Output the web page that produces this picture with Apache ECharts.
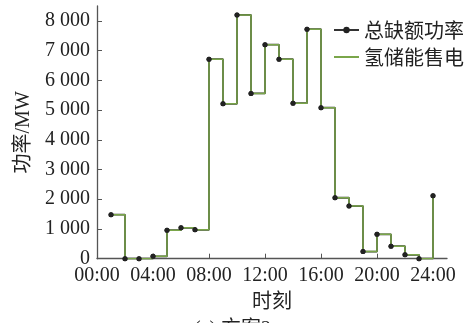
<!DOCTYPE html>
<html>
<head>
<meta charset="utf-8">
<script src="https://cdn.jsdelivr.net/npm/echarts@6/dist/echarts.min.js"></script>
<style>
html,body{margin:0;padding:0;background:#fff;}
#c{width:465px;height:323px;}
</style>
</head>
<body>
<div id="c"></div>
<script>
var hours = [1,2,3,4,5,6,7,8,9,10,11,12,13,14,15,16,17,18,19,20,21,22,23,24];
var totalGap = [1480,0,0,80,960,1040,970,6710,5210,8200,5560,7200,6710,5230,7720,5080,2050,1770,240,820,420,130,0,2120];
var h2Sale = [1480,0,0,80,960,1040,970,6710,5210,8200,5560,7200,6710,5230,7720,5080,2050,1770,240,820,420,130,0,2120];
var xTicks = [0,4,8,12,16,20,24];
var yTicks = [0,1000,2000,3000,4000,5000,6000,7000,8000];
var seriesNames = ['总缺额功率','氢储能售电'];

function pairs(xs, ys){ return xs.map(function(x,i){ return [x, ys[i]]; }); }

var serif = '"Liberation Serif","Noto Sans CJK SC",serif';
var chart = echarts.init(document.getElementById('c'));
chart.setOption({
  animation:false,
  grid:{left:97, right:18, top:6, bottom:64.3, containLabel:false},
  legend:{
    data:[{name:seriesNames[0]}, {name:seriesNames[1], itemStyle:{opacity:0}}],
    orient:'vertical', left:328, top:15, itemWidth:25, itemHeight:8, itemGap:7,
    textStyle:{fontSize:20, color:'#222', fontFamily:'"Noto Sans CJK SC",sans-serif'}
  },
  xAxis:{
    type:'value', min:0, max:25,
    name:'时刻', nameLocation:'middle', nameGap:30,
    nameTextStyle:{fontSize:20, color:'#222', fontFamily:'"Noto Sans CJK SC",sans-serif'},
    axisLine:{lineStyle:{color:'#555', width:1.3}},
    axisTick:{inside:true, length:5, customValues:xTicks, lineStyle:{color:'#555'}},
    axisLabel:{customValues:xTicks, fontSize:20, color:'#222', fontFamily:serif, margin:7,
      formatter:function(v){ return (v<10?'0':'')+v+':00'; }},
    splitLine:{show:false}
  },
  yAxis:{
    type:'value', min:0, max:8500,
    name:'功率/MW', nameLocation:'middle', nameGap:50,
    nameTextStyle:{fontSize:20, color:'#222', fontFamily:serif},
    axisLine:{show:true, lineStyle:{color:'#555', width:1.3}},
    axisTick:{show:true, inside:true, length:5, customValues:yTicks, lineStyle:{color:'#555'}},
    axisLabel:{customValues:yTicks, fontSize:20, color:'#222', fontFamily:serif, margin:7,
      formatter:function(v){ var s=String(v); return s.length>3 ? s.slice(0,s.length-3)+' '+s.slice(-3) : s; }},
    splitLine:{show:false}
  },
  series:[
    {name:seriesNames[0], type:'line', step:'end', data:pairs(hours,totalGap),
      symbol:'circle', symbolSize:5, itemStyle:{color:'#222'}, lineStyle:{color:'#333', width:1.8}},
    {name:seriesNames[1], type:'line', step:'end', data:pairs(hours,h2Sale),
      symbol:'none', itemStyle:{color:'#7aa64a'}, lineStyle:{color:'#7aa64a', width:1.5}},
    {type:'line', data:pairs(hours,totalGap), symbol:'circle', symbolSize:5,
      itemStyle:{color:'#222'}, lineStyle:{width:0, opacity:0}, tooltip:{show:false}}
  ],
  graphic:[
    {type:'text', left:'center', top:320, style:{text:'(a) 方案2', font:'20px "Liberation Serif","Noto Sans CJK SC"', fill:'#222'}}
  ]
});
</script>
</body>
</html>
